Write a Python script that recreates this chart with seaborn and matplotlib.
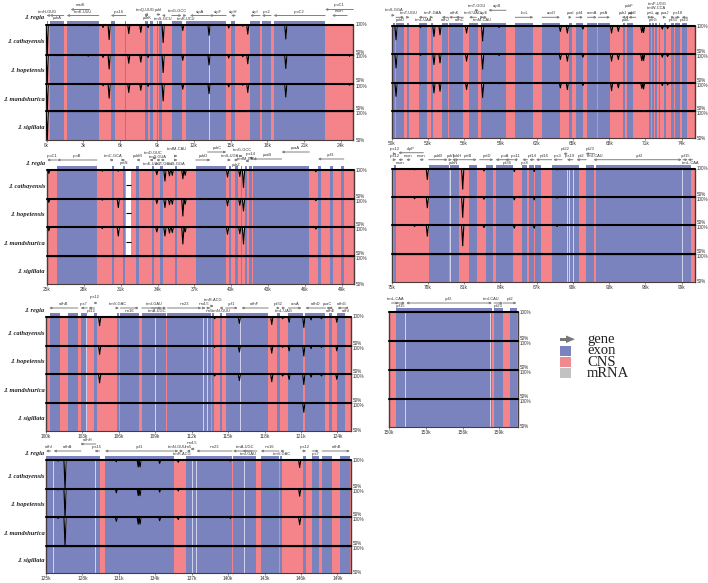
import matplotlib
matplotlib.use("Agg")
import matplotlib.pyplot as plt
import numpy as np
import pandas as pd
import seaborn as sns
from matplotlib.patches import Rectangle, Polygon

sns.set_theme(style="white")
plt.rcParams["font.family"] = ["Liberation Sans", "DejaVu Sans"]

species = ["J. cathayensis", "J. hopeiensis", "J. mandshurica", "J. sigillata"]
reference = "J. regia"

# ---- coding regions (kb) ----
exons_a = [(0,.1),(.25,1.4),(1.64,4.25),(5.24,5.56),(6.38,6.46),(8.06,8.23),(8.42,8.7),(8.96,9.1),(9.13,9.4),
           (10.2,11),(11.4,11.7),(11.7,14.65),(15.05,15.38),(16.6,17.4),(17.55,18.3),(18.5,22.7)]
exons_b = [(50.08,50.25),(50.36,51.02),(51.3,51.46),(52.23,52.9),(53.26,53.42),(54.14,54.69),(54.74,55.93),
           (56.4,57.17),(57.37,59.46),(60.23,61.72),(62.44,63.93),(64.7,64.9),(65.26,65.83),(66.2,66.97),
           (67.1,68.07),(69.12,69.3),(69.45,69.97),(71.32,71.46),(71.57,71.71),(71.82,71.93),(72.1,72.2),
           (72.54,72.7),(73.14,73.4),(73.45,73.86),(74,74.47)]
exons_c = [(25.82,29.06),(30.26,30.42),(31.21,31.32),(32.28,32.47),(33.58,33.72),(34.21,34.48),(35.44,35.6),
           (37.1,39.6),(39.8,39.96),(40.29,40.56),(40.8,40.9),(41.16,41.32),(41.43,41.73),(41.79,46.36),
           (47.07,47.29),(48.05,48.32),(48.95,49.17)]
exons_d = [(75.19,75.36),(78.06,79.74),(79.83,79.97),(80.02,80.57),(81.37,82.06),(82.83,83.39),(83.61,85.07),
           (85.81,86.23),(86.39,86.78),(86.89,87.36),(88.24,88.32),(88.38,90.5),(91.05,91.77),(91.94,99.74)]
exons_e = [(100.3,101.13),(101.79,102.61),(102.86,103.38),(103.93,104.2),(105.85,105.99),(106.13,107.64),
           (107.88,109.92),(110,113.6),(113.65,113.8),(114.3,114.48),(114.8,118.3),(119.07,119.26),
           (119.97,121.18),(121.37,123.02),(123.3,123.57),(124.01,124.64)]
exons_f = [(150.54,158.37),(158.56,159.29),(159.89,160.44)]
exons_g = [(125,129.42),(129.86,135.52),(136.51,136.87),(136.9,140.33),(140.44,142.34),(142.69,144.2),
           (144.31,144.48),(146.13,146.43),(146.92,147.47),(147.75,148.54),(149.2,150.03)]

# ---- pale hairlines inside exons (kb) ----
pale_a = [13.27]
pale_b = []
pale_c = []
pale_d = [79.8,89.54,89.68,89.98,99.0]
pale_e = [103.3,108.98,112.9,113.24,116.0]
pale_f = [151.3,158.26]
pale_g = [125.6,129.05,137.03,137.36,141.32]

# ---- identity minima: position (kb), then % in the four aligned genomes ----
dips_a = [(.05,50,50,50,50),(.9,99,98,99,100),(3.4,98,97,98,100),(4.6,95,95,96,100),(5.1,75,75,74,100),(6.7,85,85,84,100),
          (7.68,87,87,88,100),(8.28,95,95,95,100),(9.5,70,69,69,100),(11.1,90,90,90,100),(13.24,82,82,82,100),
          (14.85,94,94,94,100),(16.0,97,96,97,100),(16.4,84,84,84,100),(19.5,76,76,76,100),(24.7,100,97,97,100)]
dips_b = [(50.36,76,76,76,100),(52.4,98,98,98,100),(53.5,82,82,82,100),(54,85,85,85,100),(56.2,88,88,88,100),
          (57.53,74,74,74,100),(58.9,98,98,98,100),(63.96,91,91,91,100),(64.54,88,88,88,100),(65.83,95,95,95,100),
          (68.2,88,88,86,100),(68.76,91,91,91,100),(70.7,89,89,90,100),(70.85,89,89,89,100),(72.4,95,95,95,100),
          (72.84,96,96,96,100)]
dips_c = [(25.14,94,94,94,100),(29.5,98,98,98,100),(30.8,98,85,85,100),(33.94,92,92,92,100),(34.6,81,85,85,100),
          (34.97,90,90,90,100),(35.2,91,91,91,100),(36.06,85,70,71,100),(36.25,91,91,92,100),(39.7,88,88,88,100),
          (40.7,89,89,89,100),(41,70,79,71,100),(46.9,97,97,97,100)]
dips_d = [(76.9,98,97,98,100),(77.95,81,81,81,100),(80.88,64,64,64,100),(82.64,96,96,96,100),(85.15,95,95,95,100),
          (86.8,95,95,95,100),(88.7,98,98,98,100)]
dips_e = [(104.42,85,85,85,100),(113.9,97,97,97,100),(115.93,89,89,89,100),(118.6,87,87,87,99),(119.5,97,97,97,100),
          (120.03,91,91,91,100),(121.24,82,82,82,83),(121.84,95,95,95,100),(122.7,97,97,97,100),(123.96,91,91,91,100)]
dips_f = [(153.1,99,99,99,99),(156.1,99,99,99,99),(158.9,99,99,99,100)]
dips_g = [(126.57,50,50,50,100),(126,98,98,98,100),(130.8,97,93,93,100),(132.6,88,88,88,100),(132.75,88,88,88,100),
          (134.37,94,94,94,100),(135.9,96,96,96,100),(140.2,98,98,98,100),(145.9,87,87,87,100)]

# ---- gene track: name, start, end, strand, arrow height, label height ----
genes_a = [("trnH-GUG",0,.15,-1,9,12.5),("psbA",.25,1.4,-1,9,6),("matK",1.96,3.5,-1,15,19),("trnK-UUU",1.64,4.25,-1,9,12.5),
           ("rps16",5.24,6.46,-1,9,13),("trnQ-UUG",8,8.1,-1,10,14.5),("psbK",8.1,8.3,1,9,6),("psbI",9,9.3,1,10,14.5),
           ("trnS-GCU",9.4,9.6,-1,9,6),("trnG-GCC",10.2,11,1,9,14),("trnR-UCU",11.2,11.4,1,9,6),("atpA",11.69,13.27,-1,9,13),
           ("atpF",13.27,14.63,-1,9,13),("atpH",15.04,15.37,-1,9,13),("atpI",16.6,17.4,-1,9,13),("rps2",17.55,18.3,-1,9,13),
           ("rpoC2",18.5,22.7,-1,9,13),("rpoC1",22.7,25,-1,15,19.5),("exon",23.27,24.5,-1,9,13)]
genes_b = [("trnS-GGA",50.08,50.25,1,11,16),("trnT-UGU",51.3,51.46,1,9,13),("psbD",50.36,51.02,1,9,6),
           ("trnL-UAA",52.23,52.9,-1,9,6),("trnF-GAA",53.26,53.42,1,9,13),("ndhJ",54.14,54.69,-1,9,6),("ndhK",54.74,55.6,-1,9,13),
           ("ndhC",55.3,55.93,-1,9,6),("trnV-UAC",56.4,57,-1,9,13),("trnM-CAU",57.37,57.6,1,9,6),("trnT-GGU",56.9,57.2,1,16,20),
           ("atpE",57.5,57.8,-1,9,13),("atpB",58,59.46,-1,16,20),("rbcL",60.23,61.72,1,9,13),("accD",62.44,63.93,1,9,13),
           ("psaI",64.7,64.9,1,9,13),("ycf4",65.26,65.83,1,9,13),("cemA",66.2,66.97,1,9,13),("petA",67.1,68.07,1,9,13),
           ("psbJ",69.05,69.25,-1,9,13),("psbL",69.3,69.5,-1,9,6),("psbF",69.6,69.7,-1,13,20),("psbE",69.6,70.2,-1,9,13),
           ("petL",71.32,71.46,1,9,13),("petG",71.57,71.71,1,9,6),("trnW-CCA",71.75,71.95,-1,13,18),("trnP-UGG",71.82,72,-1,13,22),
           ("psaJ",72.54,72.7,1,9,13),("rpl33",73.14,73.4,1,9,6),("rps18",73.45,73.86,1,9,13),("rpl20",74,74.47,-1,9,6)]
genes_c = [("rpoC1",25,25.8,-1,10,14),("rpoB",25.82,29.06,-1,10,14),("trnC-GCA",30.26,30.42,1,10,14),("petN",31.21,31.32,1,10,7),
           ("psbM",32.28,32.47,-1,10,14),("trnD-GUC",33.58,33.72,-1,12,17),("trnY-GUA",33.9,34.1,-1,10,13),("trnE-UUC",33.35,33.6,-1,10,6),
           ("trnT-GGU",34.35,34.6,1,10,6),("trnfM-CAU",35.44,35.6,1,14,21),("trnS-GGA",35.44,35.6,1,10,6),("psbD",37.1,38.3,1,10,14),
           ("psbC",38.08,39.6,1,18,22),("trnS-UGA",39.8,39.96,1,10,14),("psbZ",40.29,40.56,1,10,5),("trnG-GCC",40.8,40.9,1,14,20),
           ("rps14",41.43,41.73,-1,12,16),("trnfM-CAU",41.16,41.32,-1,9,10.5),("psaB",41.79,44.1,-1,11,15),("psaA",44.1,46.36,-1,18,22),
           ("ycf3",47.07,49.17,-1,11,15)]
genes_d = [("rps12",75.19,75.36,1,15,20),("clpP",75.55,77.62,-1,16,20),("rps12",75.19,75.36,1,9,13),("exon",75.55,75.9,-1,9,6),
           ("exon",76.2,76.5,-1,9,13),("exon",77.3,77.6,-1,9,13),("psbB",78.06,79.63,1,9,13),("psbT",79.83,79.97,1,9,13),
           ("psbN",80,80.2,-1,9,6),("psbH",80.3,80.55,1,9,13),("petB",80.55,82.03,1,9,13),("petD",82.28,83.41,1,9,13),
           ("rpoA",83.6,85.07,-1,9,13),("rps11",85.1,85.4,-1,9,13),("rpl36",84.4,84.7,-1,9,6),("rps8",85.81,86.23,-1,9,6),
           ("rpl14",86.39,86.78,-1,9,13),("rpl16",86.94,88.24,-1,9,13),("rps3",88.38,89.1,-1,9,13),("rpl22",89.2,89.5,-1,15,20),
           ("rps19",89.5,90,-1,9,13),("rpl2",90.3,91.1,-1,9,13),("rpl23",91.05,91.77,-1,15,20),("trnI-CAU",91.7,91.9,-1,9,13),
           ("ycf2",91.97,99,1,9,13),("ycf15",99.1,99.5,1,9,13),("trnL-CAA",99.5,99.9,-1,9,6)]
genes_e = [("ndhB",100.27,102.61,-1,9,13),("rps7",102.86,103.4,-1,9,13),("rps12",103.9,104.1,-1,14,20),("rpl12",103.5,104,-1,9,6),
           ("trnV-GAC",105.85,105.99,1,9,13),("rrn16",106.13,107.64,1,9,6),("trnI-GAU",107.88,109.9,1,9,13),("trnA-UGC",108.7,109.5,1,9,6),
           ("rrn23",110,112.8,1,9,13),("rrn4.5",113,113.1,1,9,13),("rrn5",113.4,113.5,1,9,6),("trnR-ACG",113.65,113.8,1,11,17),
           ("trnN-GUU",114.3,114.48,-1,9,6),("ycf1",114.8,115.8,1,9,13),("ndhF",116.1,118.3,-1,9,13),("rpl32",119.07,119.26,1,9,13),
           ("trnL-UAG",119.5,119.7,1,9,6),("ccsA",119.97,121.05,1,9,13),("ndhD",121.37,123.02,-1,9,13),("psaC",123.1,123.3,-1,9,13),
           ("ndhE",123.3,123.57,-1,9,6),("ndhG",124.01,124.64,-1,9,13),("ndhI",124.6,124.8,-1,9,6)]
genes_f = [("trnL-CAA",150.2,150.8,1,9,13),("ycf15",150.54,151.3,1,9,6),("ycf2",151.4,158.3,-1,9,13),("trnI-CAU",158.2,158.4,1,9,13),
           ("rpl23",158.56,159.29,1,9,6),("rpl2",159.3,160.4,1,9,13)]
genes_g = [("ndhI",125,125.4,-1,9,13),("ndhA",125.63,127.88,-1,9,13),("ndhH",127.83,129.1,-1,16,20),("rps15",129,129.42,-1,9,13),
           ("ycf1",129.86,135.52,-1,9,13),("trnN-GUU",135.6,135.9,1,9,13),("trnR-ACG",136,136.3,1,9,6),("rrn5",136.6,136.87,-1,9,13),
           ("rrn4.5",136.9,137.2,-1,11,17),("rrn23",137.39,140.33,-1,9,13),("trnA-UGC",140.41,142.39,-1,9,13),("trnI-GAU",141.2,142,-1,9,6),
           ("rrn16",142.69,144.2,-1,9,13),("trnV-GAC",144.31,144.48,-1,9,6),("rps12",146.13,146.43,1,9,13),("rps7",146.92,147.47,1,9,6),
           ("ndhB",147.75,150.03,1,9,13)]

# panel geometry in pixels: left, right, row lines, first kb, last kb, tick start
panels = [
    dict(ex=exons_a, pale=pale_a, dips=dips_a, genes=genes_a, px=(46,353.3), rows=(24.5,54.5,83.5,111.5,140), lim=(-.05,25), t0=0, named=True),
    dict(ex=exons_b, pale=pale_b, dips=dips_b, genes=genes_b, px=(391.7,695), rows=(26.3,54.3,82.7,111,138.3), lim=(50,75.1), t0=50, named=False),
    dict(ex=exons_c, pale=pale_c, dips=dips_c, genes=genes_c, px=(46.5,354), rows=(170,199,227.3,256,284.3), lim=(24.95,50), t0=25, named=True),
    dict(ex=exons_d, pale=pale_d, dips=dips_d, genes=genes_d, px=(391.7,695), rows=(168.7,197,225.3,253.7,281.7), lim=(75,100.1), t0=75, named=False),
    dict(ex=exons_e, pale=pale_e, dips=dips_e, genes=genes_e, px=(46,350.7), rows=(317,345.7,374.3,402.7,430.7), lim=(100,125.1), t0=100, named=True),
    dict(ex=exons_f, pale=pale_f, dips=dips_f, genes=genes_f, px=(389,517.7), rows=(312,341,370,398.7,426.7), lim=(150,160.5), t0=150, named=False),
    dict(ex=exons_g, pale=pale_g, dips=dips_g, genes=genes_g, px=(46,350.7), rows=(460,488.7,517.3,545.7,573), lim=(125,150.1), t0=125, named=True),
]

W, H = 708, 583
BLUE, PINK, GRAY, FRAME = "#7b83bf", "#f48489", "#808080", "#4b3a3a"
TEXT = "#333333"
fig = plt.figure(figsize=(W/100, H/100), dpi=100, facecolor="white")

def axes_px(x0, x1, y0, y1):
    return fig.add_axes([x0/W, 1-y1/H, (x1-x0)/W, (y1-y0)/H])

HALF = 0.09
for p in panels:
    x0, x1 = p["px"]
    rows = p["rows"]
    # gene track above the frame; its y axis counts pixels above the frame
    tr = axes_px(x0, x1, rows[0]-24, rows[0])
    tr.set_xlim(*p["lim"]); tr.set_ylim(0, 24); tr.axis("off"); tr.patch.set_alpha(0)
    starts = [a for a, _ in p["ex"]]; ends = [b for _, b in p["ex"]]
    tr.bar(starts, 3.6, width=np.subtract(ends, starts), align="edge", color=BLUE, lw=0)
    for name, a, b, s, ya, yl in p["genes"]:
        tail, head = (a, b) if s > 0 else (b, a)
        tr.annotate("", xy=(head, ya), xytext=(tail, ya), annotation_clip=False,
                    arrowprops=dict(arrowstyle="-|>", lw=.7, color=GRAY, mutation_scale=3, shrinkA=0, shrinkB=0))
        tr.text((a+b)/2, yl, name, fontsize=2.9, color=TEXT, ha="center", va="center", clip_on=False)
    if p["named"]:
        tr.text(-0.005, 0.28, reference, transform=tr.transAxes, family="Liberation Serif", style="italic",
                weight="bold", fontsize=4.7, color="#222222", ha="right", va="center")
    # identity rows
    for r in range(4):
        ax = axes_px(x0, x1, rows[r], rows[r+1])
        ax.set_xlim(*p["lim"]); ax.set_ylim(50, 100)
        ax.set_facecolor(PINK)
        for a, b in p["ex"]:
            ax.axvspan(a, b, color=BLUE, lw=0, zorder=1)
        for q in p["pale"]:
            ax.axvline(q, color="#dfe1f2", lw=.6, zorder=1.5)
        if p is panels[2] and r < 3:
            ax.axvspan(31.4, 31.84, color="white", lw=0, zorder=1.6)
            ax.hlines(75, 31.4, 31.84, color="black", lw=.8, zorder=1.7)
        xs, ys = [p["lim"][0]], [100]
        for d in sorted(p["dips"], key=lambda t: t[0]):
            xs += [d[0]-HALF, d[0], d[0]+HALF]
            ys += [100, d[r+1], 100]
        xs.append(p["lim"][1]); ys.append(100)
        ax.fill_between(xs, ys, 100, color="white", lw=0, zorder=2)
        sns.lineplot(data=pd.DataFrame({"kb": xs, "id": ys}), x="kb", y="id", ax=ax, estimator=None,
                     sort=False, color="black", lw=.85, zorder=3, legend=False)
        ax.axhline(100, color="black", lw=1.5, zorder=4, clip_on=False)
        ax.set_xlabel(""); ax.set_ylabel("")
        ax.yaxis.tick_right()
        ax.set_yticks([50, 100])
        ax.set_yticklabels(["50%", "100%"], fontsize=3.3, color=TEXT)
        ax.tick_params(axis="y", length=0, pad=1.5)
        labs = ax.get_yticklabels()
        labs[0].set_va("center" if r == 3 else "bottom")
        labs[1].set_va("center" if r == 0 else "top")
        for side in ("left", "right"):
            ax.spines[side].set_color(FRAME); ax.spines[side].set_linewidth(1)
        ax.spines["top"].set_visible(False)
        ax.spines["bottom"].set_visible(r == 3)
        ax.spines["bottom"].set_color(FRAME); ax.spines["bottom"].set_linewidth(.8)
        if r == 3:
            t = list(range(p["t0"], int(p["lim"][1]) + 1, 3))
            t = [v for v in t if v < p["lim"][1]]
            ax.set_xticks(t)
            ax.set_xticklabels([f"{v}k" for v in t], fontsize=3.4, color=TEXT)
            ax.tick_params(axis="x", length=1.2, width=.4, pad=1, color=TEXT, bottom=True)
        else:
            ax.set_xticks([])
        if p["named"]:
            ax.text(-0.005, 0.44, species[r], transform=ax.transAxes, family="Liberation Serif", style="italic",
                    weight="bold", fontsize=4.7, color="#222222", ha="right", va="center")

# legend, laid out on a pixel overlay
ov = fig.add_axes([0, 0, 1, 1]); ov.set_xlim(0, W); ov.set_ylim(H, 0); ov.axis("off"); ov.patch.set_alpha(0)
ov.add_patch(Rectangle((560, 337.5), 6.5, 3.5, color="#777777", lw=0))
ov.add_patch(Polygon([(566, 335.5), (575, 339.2), (566, 343)], color="#777777", lw=0))
legend_rows = [("exon", BLUE, 345.8, 356), ("CNS", "#f08a8e", 357, 366.5), ("mRNA", "#c2c2c2", 368, 378)]
for y, lab in zip((339.5, 351, 362, 373.5), ("gene", "exon", "CNS", "mRNA")):
    ov.text(587, y, lab, family="Liberation Serif", fontsize=10.5, color="#222222", va="center", ha="left")
for lab, col, y0, y1 in legend_rows:
    ov.add_patch(Rectangle((560, y0), 11, y1-y0, color=col, lw=0))

fig.savefig("out.png", dpi=100, facecolor="white")
